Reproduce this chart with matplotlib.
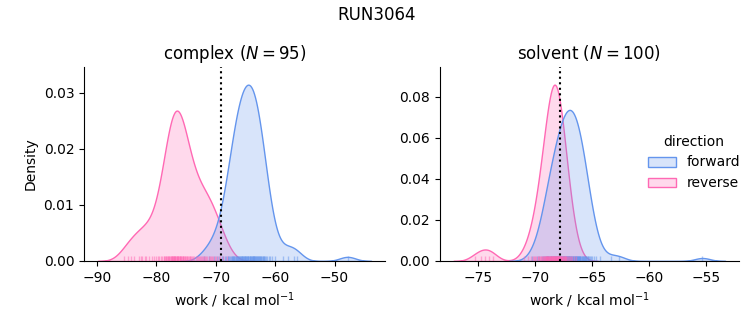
import matplotlib
matplotlib.use("Agg")
import matplotlib.pyplot as plt
import pandas as pd
import seaborn as sns

# ---------------- data ----------------
phases = ["complex", "solvent"]
directions = ["forward", "reverse"]
palette = {"forward": "cornflowerblue", "reverse": "hotpink"}
suptitle = "RUN3064"
xlabel = "work / kcal mol$^{-1}$"
ylabel = "Density"

complex_forward = [
    -72.0, -71.1, -70.3, -69.8, -69.4, -69.0, -68.7,
    -68.4, -68.2, -68.0, -67.9, -67.7, -67.55,
    -67.45, -67.35, -67.25, -67.15, -67.05, -66.95, -66.85, -66.75, -66.65, -66.55,
    -66.45, -66.4, -66.3, -66.2, -66.15, -66.05, -66.0, -65.9, -65.8, -65.75, -65.65, -65.6, -65.55,
    -65.45, -65.4, -65.3, -65.25, -65.15, -65.1, -65.0, -64.9, -64.85, -64.75, -64.7, -64.6, -64.55, -64.5,
    -64.4, -64.3, -64.25, -64.15, -64.1, -64.0, -63.95, -63.85, -63.8, -63.7, -63.65, -63.6, -63.55, -63.5,
    -63.45, -63.35, -63.25, -63.2, -63.1, -63.0, -62.9, -62.85, -62.75, -62.7, -62.6, -62.55,
    -62.45, -62.35, -62.2, -62.1, -62.0, -61.9, -61.8, -61.7, -61.55,
    -61.4, -61.1, -60.8, -60.6, -60.1,
    -58.7, -57.9, -56.9, -56.4, -47.8,
]
complex_reverse = [
    -85.4, -84.7, -84.2, -83.8, -83.0, -82.6, -82.4, -82.0, -81.7, -81.3, -80.8,
    -80.4, -80.1, -79.8, -79.6,
    -79.2, -79.0, -78.8, -78.7, -78.5,
    -78.4, -78.3, -78.2, -78.1, -78.0, -77.9, -77.8, -77.7, -77.6, -77.5,
    -77.45, -77.4, -77.3, -77.25, -77.2, -77.1, -77.0, -77.0, -76.95, -76.9, -76.8, -76.7, -76.6, -76.55,
    -76.45, -76.4, -76.3, -76.3, -76.2, -76.1, -76.0, -75.95, -75.85, -75.8, -75.7, -75.6, -75.55,
    -75.45, -75.3, -75.2, -75.1, -75.0, -74.9, -74.8, -74.7, -74.55,
    -74.4, -74.3, -74.1, -74.0, -73.8, -73.7,
    -73.4, -73.2, -73.0, -72.9, -72.7, -72.55,
    -72.4, -72.2, -72.0, -71.8, -71.6,
    -71.4, -71.2, -71.0, -70.8, -70.6,
    -70.4, -70.1, -69.9, -69.6, -69.3, -68.8, -68.1,
]
solvent_forward = [
    -70.3, -69.85, -69.65,
    -69.45, -69.35, -69.25, -69.15, -69.05,
    -68.97, -68.95, -68.91, -68.84, -68.78, -68.72, -68.66, -68.62, -68.59, -68.53,
    -68.48, -68.43, -68.39, -68.34, -68.3, -68.25, -68.2, -68.16, -68.11, -68.07, -68.02,
    -67.98, -67.95, -67.91, -67.88, -67.84, -67.81, -67.77, -67.74, -67.7, -67.67, -67.63, -67.6, -67.56, -67.53,
    -67.49, -67.46, -67.43, -67.4, -67.37, -67.34, -67.31, -67.28, -67.25, -67.22, -67.19, -67.16, -67.13,
    -67.1, -67.07, -67.04, -67.01,
    -66.99, -66.96, -66.93, -66.88, -66.85, -66.82, -66.79, -66.74, -66.71, -66.68, -66.65,
    -66.62, -66.57, -66.54, -66.51,
    -66.48, -66.45, -66.42, -66.39, -66.36, -66.33, -66.3, -66.27, -66.24, -66.21, -66.18, -66.15, -66.12,
    -66.09, -66.06, -66.03,
    -65.97, -65.93, -65.88, -65.84, -65.79, -65.75, -65.71, -65.66, -65.62, -65.57, -65.53,
    -65.45, -65.4, -65.37, -65.29, -65.21, -65.13, -65.05,
    -64.85, -64.65, -64.3, -63.3, -62.6, -55.3,
]
solvent_reverse = [
    -75.3, -74.8, -74.4, -74.1, -73.7,
    -71.0, -70.6, -70.4, -70.2, -70.1, -70.0, -69.9, -69.8,
    -69.72, -69.66, -69.59, -69.53, -69.47, -69.41, -69.34, -69.28,
    -69.23, -69.2, -69.16, -69.13, -69.1, -69.06, -69.03, -69.0, -68.97, -68.94, -68.9, -68.87, -68.84,
    -68.8, -68.77,
    -68.74, -68.72, -68.69, -68.67, -68.64, -68.62, -68.6, -68.57, -68.55, -68.52, -68.5, -68.48, -68.45,
    -68.43, -68.4, -68.38, -68.36, -68.33, -68.31, -68.28, -68.26,
    -68.24, -68.22, -68.2, -68.17, -68.15, -68.13, -68.1, -68.08, -68.06, -68.04, -68.01, -67.99, -67.97,
    -67.94, -67.92, -67.9, -67.88, -67.85, -67.83, -67.81, -67.78, -67.76,
    -67.73, -67.69, -67.65, -67.62, -67.58, -67.54, -67.5, -67.46, -67.42, -67.38, -67.35, -67.31, -67.27,
    -67.2, -67.12, -67.04, -66.96, -66.88, -66.8, -66.6, -66.4,
]
free_energy = {"complex": -69.2, "solvent": -67.85}

# ---------------- build long table ----------------
samples = {
    ("complex", "forward"): complex_forward,
    ("complex", "reverse"): complex_reverse,
    ("solvent", "forward"): solvent_forward,
    ("solvent", "reverse"): solvent_reverse,
}
rows = []
for (phase, direction), vals in samples.items():
    for v in vals:
        rows.append({"phase": phase, "direction": direction, "work": v})
df = pd.DataFrame(rows)

g = sns.displot(
    data=df, x="work", hue="direction", col="phase", kind="kde",
    fill=True, rug=True, palette=palette,
    hue_order=directions, col_order=phases,
    facet_kws=dict(sharex=False, sharey=False),
    rug_kws=dict(alpha=0.5),
    height=3, aspect=1,
)
fig = g.figure
fig.set_size_inches(7.53, 3.25)

axes = g.axes.flat
positions = [
    [84 / 753, 64 / 325, 301 / 753, 194 / 325],
    [439.7 / 753, 64 / 325, 299.3 / 753, 194 / 325],
]
for ax, phase, pos in zip(axes, phases, positions):
    ax.set_position(pos)
    ax.axvline(free_energy[phase], color="k", ls=":")
    n = min(len(samples[(phase, "forward")]), len(samples[(phase, "reverse")]))
    ax.set_title(f"{phase} ($N = {n}$)")
    ax.set_xlabel(xlabel)
g.axes.flat[0].set_ylabel(ylabel)
g.axes.flat[1].set_ylabel("")

fig.suptitle(suptitle)
fig.savefig("out.png", dpi=100)
